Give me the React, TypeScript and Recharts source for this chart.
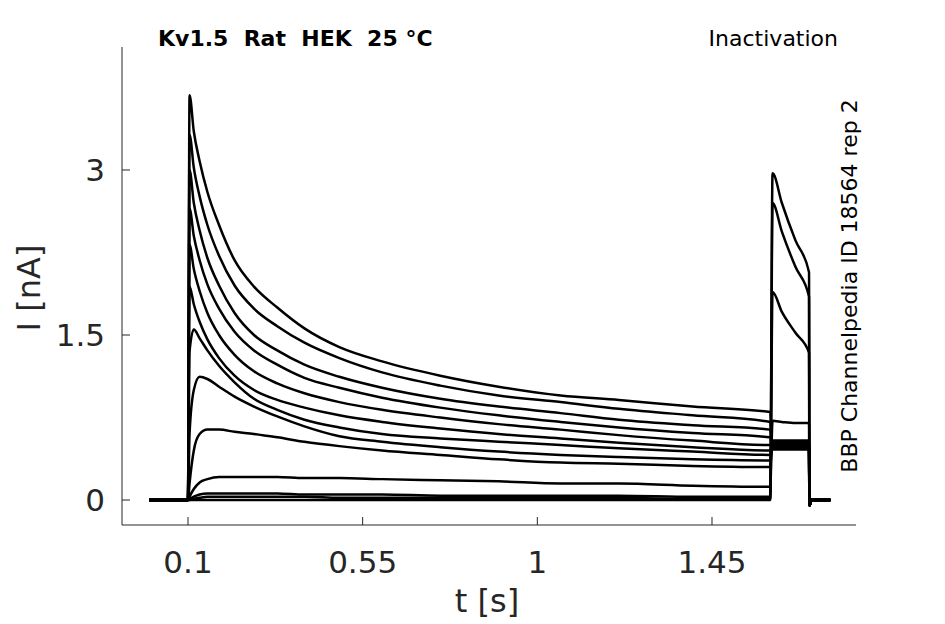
import { LineChart, Line, XAxis, YAxis } from 'recharts'

// tempo das amostras (s)
const TIME = [0, 0.1, 0.104, 0.115, 0.13, 0.15, 0.18, 0.22, 0.27, 0.33, 0.4, 0.49, 0.6, 0.75, 0.9, 1.06, 1.21, 1.4, 1.6, 1.606, 1.63, 1.665, 1.7, 1.701, 1.706, 1.755]

// correntes (nA) de cada sweep
const sweep0 = [0, 0, 3.68, 3.35, 3.08, 2.80, 2.50, 2.18, 1.94, 1.75, 1.56, 1.39, 1.26, 1.13, 1.03, 0.95, 0.91, 0.85, 0.80, 0.46, 0.46, 0.46, 0.46, -0.05, 0, 0]
const sweep1 = [0, 0, 3.32, 3.02, 2.76, 2.50, 2.22, 1.95, 1.74, 1.58, 1.43, 1.29, 1.16, 1.04, 0.95, 0.89, 0.83, 0.77, 0.71, 0.47, 0.47, 0.47, 0.47, -0.05, 0, 0]
const sweep2 = [0, 0, 3.00, 2.70, 2.45, 2.20, 1.95, 1.70, 1.50, 1.36, 1.23, 1.12, 1.02, 0.92, 0.85, 0.79, 0.73, 0.68, 0.64, 0.48, 0.48, 0.48, 0.48, -0.05, 0, 0]
const sweep3 = [0, 0, 2.65, 2.40, 2.18, 1.96, 1.74, 1.53, 1.36, 1.23, 1.11, 1.02, 0.93, 0.84, 0.77, 0.71, 0.66, 0.61, 0.57, 0.49, 0.49, 0.49, 0.49, -0.05, 0, 0]
const sweep4 = [0, 0, 2.32, 2.10, 1.90, 1.70, 1.50, 1.32, 1.17, 1.06, 0.97, 0.89, 0.82, 0.75, 0.69, 0.64, 0.59, 0.54, 0.50, 0.50, 0.50, 0.50, 0.50, -0.05, 0, 0]
const sweep5 = [0, 0, 1.94, 1.78, 1.62, 1.46, 1.29, 1.13, 1.00, 0.91, 0.84, 0.77, 0.71, 0.65, 0.60, 0.56, 0.52, 0.48, 0.45, 0.51, 0.51, 0.51, 0.51, -0.05, 0, 0]
const sweep6 = [0, 0, 1.35, 1.55, 1.47, 1.36, 1.22, 1.07, 0.92, 0.82, 0.73, 0.66, 0.60, 0.56, 0.53, 0.50, 0.47, 0.44, 0.41, 0.52, 0.52, 0.52, 0.52, -0.05, 0, 0]
const sweep7 = [0, 0, 0.60, 1.00, 1.12, 1.10, 1.03, 0.94, 0.85, 0.76, 0.67, 0.58, 0.53, 0.48, 0.44, 0.41, 0.39, 0.37, 0.36, 0.53, 0.53, 0.53, 0.53, -0.05, 0, 0]
const sweep8 = [0, 0, 0.15, 0.45, 0.60, 0.64, 0.64, 0.62, 0.60, 0.57, 0.53, 0.49, 0.45, 0.41, 0.37, 0.34, 0.33, 0.31, 0.30, 0.54, 0.54, 0.54, 0.54, -0.05, 0, 0]
const sweep9 = [0, 0, 0.03, 0.10, 0.16, 0.19, 0.21, 0.21, 0.21, 0.21, 0.20, 0.20, 0.19, 0.18, 0.17, 0.15, 0.15, 0.13, 0.12, 0.72, 0.71, 0.70, 0.70, -0.05, 0, 0]
const sweep10 = [0, 0, 0.01, 0.03, 0.05, 0.06, 0.06, 0.06, 0.06, 0.06, 0.05, 0.05, 0.05, 0.04, 0.04, 0.04, 0.04, 0.03, 0.03, 1.89, 1.71, 1.52, 1.34, -0.05, 0, 0]
const sweep11 = [0, 0, 0, 0.01, 0.02, 0.03, 0.03, 0.03, 0.03, 0.03, 0.03, 0.02, 0.02, 0.02, 0.02, 0.02, 0.02, 0.01, 0.01, 2.70, 2.44, 2.12, 1.85, -0.05, 0, 0]
const sweep12 = [0, 0, 0, 0, 0, 0, 0, 0, 0, 0, 0, 0, 0, 0, 0, 0, 0, 0, 0, 2.97, 2.70, 2.36, 2.07, -0.05, 0, 0]

const SWEEPS = [sweep0, sweep1, sweep2, sweep3, sweep4, sweep5, sweep6, sweep7, sweep8, sweep9, sweep10, sweep11, sweep12]

const X_TICKS = [0.1, 0.55, 1, 1.45]
const Y_TICKS = [0, 1.5, 3]

const FONT = '"DejaVu Sans", sans-serif'
const INK = '#262626'

const dados = TIME.map((t, i) => {
  const linha: any = { t }
  SWEEPS.forEach((s, k) => { linha['s' + k] = s[i] })
  return linha
})

export default function App() {
  const tickStyle = { fontSize: 31, fill: INK, fontFamily: FONT }
  return (
    <div style={{ position: 'absolute', left: 0, top: 0, width: 945, height: 624, background: '#fff' }}>
      <LineChart width={945} height={624} data={dados} margin={{ top: 47, right: 89, bottom: 0, left: 0 }}>
        <XAxis
          type="number"
          dataKey="t"
          domain={[-0.07, 1.821]}
          ticks={X_TICKS}
          interval={0}
          allowDataOverflow
          height={99}
          tickSize={-8}
          tickMargin={34}
          tick={tickStyle}
          axisLine={{ stroke: INK, strokeWidth: 1 }}
          tickLine={{ stroke: INK, strokeWidth: 1 }}
        />
        <YAxis
          type="number"
          domain={[-0.227, 4.118]}
          ticks={Y_TICKS}
          interval={0}
          allowDataOverflow
          width={122}
          tickSize={-8}
          tickMargin={25}
          tick={tickStyle}
          axisLine={{ stroke: INK, strokeWidth: 1 }}
          tickLine={{ stroke: INK, strokeWidth: 1 }}
        />
        {SWEEPS.map((_, k) => (
          <Line
            key={k}
            type="monotone"
            dataKey={'s' + k}
            stroke="#000"
            strokeWidth={2.5}
            dot={false}
            isAnimationActive={false}
          />
        ))}
      </LineChart>

      {/* textos por cima do grafico */}
      <svg width={945} height={624} style={{ position: 'absolute', left: 0, top: 0, pointerEvents: 'none' }}>
        <text x={158} y={46} fontSize={22} fontWeight="bold" fontFamily={FONT} fill="#000" style={{ whiteSpace: 'pre' }}>
          {'Kv1.5  Rat  HEK  25 °C'}
        </text>
        <text x={838} y={46} fontSize={22} fontFamily={FONT} fill="#000" textAnchor="end">Inactivation</text>
        <text transform="translate(857,286) rotate(-90)" fontSize={22} fontFamily={FONT} fill="#000" textAnchor="middle">
          BBP Channelpedia ID 18564 rep 2
        </text>
        <text transform="translate(40,288) rotate(-90)" fontSize={32} fontFamily={FONT} fill={INK} textAnchor="middle">I [nA]</text>
        <text x={487} y={612} fontSize={32} fontFamily={FONT} fill={INK} textAnchor="middle">t [s]</text>
      </svg>
    </div>
  )
}
